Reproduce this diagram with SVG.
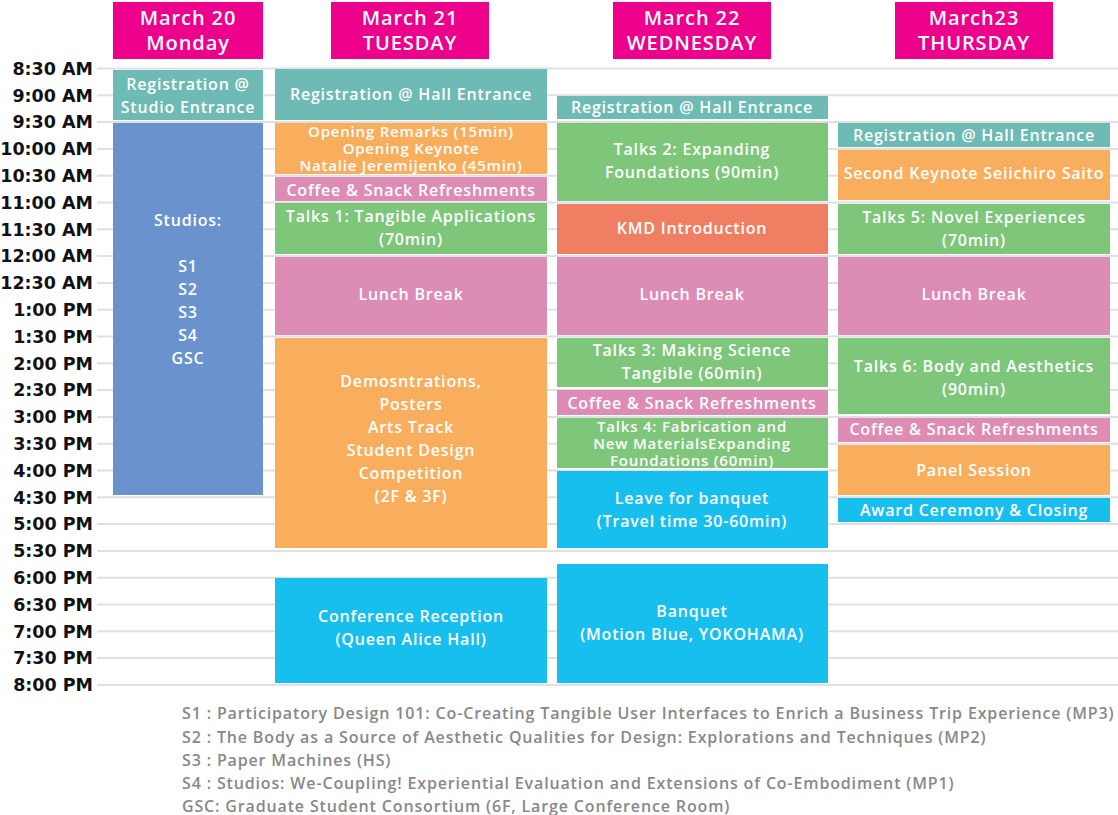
<svg xmlns="http://www.w3.org/2000/svg" width="1118" height="815" viewBox="0 0 1118 815">
<style>
.g{stroke:#e0e0e0;stroke-width:2}
.h{fill:#EC008C}
.ht{font-family:"Open Sans",sans-serif;font-weight:600;font-size:20px;letter-spacing:0.9px;fill:#fff;text-anchor:middle}
.tl{font-family:"DejaVu Sans",sans-serif;font-weight:700;font-size:17.5px;fill:#111;text-anchor:end}
.t{font-family:"Open Sans",sans-serif;font-weight:600;font-size:16px;letter-spacing:0.8px;fill:#fff;text-anchor:middle}
.t3{font-family:"Open Sans",sans-serif;font-weight:600;font-size:15px;letter-spacing:0.8px;fill:#fff;text-anchor:middle}
.n{font-family:"Open Sans",sans-serif;font-weight:600;font-size:16px;letter-spacing:0.85px;fill:#888}
.teal{fill:#6DBBB4}.blue{fill:#6A93CD}.or{fill:#F9AE5E}.pk{fill:#DD8DB5}.gr{fill:#7DC67A}.rd{fill:#F07E62}.cy{fill:#17BFEF}
</style>
<rect width="1118" height="815" fill="#fff"/>
<g id="grid">
<line class="g" x1="97" x2="1118" y1="68.5" y2="68.5"/><line class="g" x1="97" x2="1118" y1="95.3" y2="95.3"/><line class="g" x1="97" x2="1118" y1="122.1" y2="122.1"/><line class="g" x1="97" x2="1118" y1="148.9" y2="148.9"/><line class="g" x1="97" x2="1118" y1="175.7" y2="175.7"/><line class="g" x1="97" x2="1118" y1="202.5" y2="202.5"/><line class="g" x1="97" x2="1118" y1="229.3" y2="229.3"/><line class="g" x1="97" x2="1118" y1="256.1" y2="256.1"/><line class="g" x1="97" x2="1118" y1="282.9" y2="282.9"/><line class="g" x1="97" x2="1118" y1="309.7" y2="309.7"/><line class="g" x1="97" x2="1118" y1="336.5" y2="336.5"/><line class="g" x1="97" x2="1118" y1="363.3" y2="363.3"/><line class="g" x1="97" x2="1118" y1="390.1" y2="390.1"/><line class="g" x1="97" x2="1118" y1="416.9" y2="416.9"/><line class="g" x1="97" x2="1118" y1="443.7" y2="443.7"/><line class="g" x1="97" x2="1118" y1="470.5" y2="470.5"/><line class="g" x1="97" x2="1118" y1="497.3" y2="497.3"/><line class="g" x1="97" x2="1118" y1="524.1" y2="524.1"/><line class="g" x1="97" x2="1118" y1="550.9" y2="550.9"/><line class="g" x1="97" x2="1118" y1="577.7" y2="577.7"/><line class="g" x1="97" x2="1118" y1="604.5" y2="604.5"/><line class="g" x1="97" x2="1118" y1="631.3" y2="631.3"/><line class="g" x1="97" x2="1118" y1="658.1" y2="658.1"/><line class="g" x1="97" x2="1118" y1="684.9" y2="684.9"/>
</g>
<g id="times">
<text class="tl" x="93" y="75">8:30 AM</text><text class="tl" x="93" y="102">9:00 AM</text><text class="tl" x="93" y="128">9:30 AM</text><text class="tl" x="93" y="155">10:00 AM</text><text class="tl" x="93" y="182">10:30 AM</text><text class="tl" x="93" y="209">11:00 AM</text><text class="tl" x="93" y="236">11:30 AM</text><text class="tl" x="93" y="262">12:00 AM</text><text class="tl" x="93" y="289">12:30 AM</text><text class="tl" x="93" y="316">1:00 PM</text><text class="tl" x="93" y="343">1:30 PM</text><text class="tl" x="93" y="370">2:00 PM</text><text class="tl" x="93" y="396">2:30 PM</text><text class="tl" x="93" y="423">3:00 PM</text><text class="tl" x="93" y="450">3:30 PM</text><text class="tl" x="93" y="477">4:00 PM</text><text class="tl" x="93" y="504">4:30 PM</text><text class="tl" x="93" y="530">5:00 PM</text><text class="tl" x="93" y="557">5:30 PM</text><text class="tl" x="93" y="584">6:00 PM</text><text class="tl" x="93" y="611">6:30 PM</text><text class="tl" x="93" y="638">7:00 PM</text><text class="tl" x="93" y="664">7:30 PM</text><text class="tl" x="93" y="691">8:00 PM</text>
</g>
<g id="hdr-mon"><rect class="h" x="113" y="2" width="150" height="57"/><text class="ht" x="188" y="25">March 20</text><text class="ht" x="188" y="50">Monday</text></g>
<g id="hdr-tue"><rect class="h" x="331" y="2" width="158" height="57"/><text class="ht" x="410" y="25">March 21</text><text class="ht" x="410" y="50">TUESDAY</text></g>
<g id="hdr-wed"><rect class="h" x="613" y="2" width="158" height="57"/><text class="ht" x="692" y="25">March 22</text><text class="ht" x="692" y="50">WEDNESDAY</text></g>
<g id="hdr-thu"><rect class="h" x="895" y="2" width="158" height="57"/><text class="ht" x="974" y="25">March23</text><text class="ht" x="974" y="50">THURSDAY</text></g>

<g id="mon-reg"><rect class="teal" x="113" y="70" width="150" height="50"/><text class="t" x="188" y="90">Registration @</text><text class="t" x="188" y="113">Studio Entrance</text></g>
<g id="mon-studios"><rect class="blue" x="113" y="123" width="150" height="372"/><text class="t" x="188" y="226">Studios:</text><text class="t" x="188" y="272">S1</text><text class="t" x="188" y="295">S2</text><text class="t" x="188" y="318">S3</text><text class="t" x="188" y="341">S4</text><text class="t" x="188" y="364">GSC</text></g>

<g id="tue-reg"><rect class="teal" x="275" y="69" width="272" height="51"/><text class="t" x="411" y="100">Registration @ Hall Entrance</text></g>
<g id="tue-open"><rect class="or" x="275" y="123" width="272" height="51"/><text class="t3" x="411" y="137">Opening Remarks (15min)</text><text class="t3" x="411" y="154">Opening Keynote</text><text class="t3" x="411" y="171">Natalie Jeremijenko (45min)</text></g>
<g id="tue-coffee"><rect class="pk" x="275" y="177" width="272" height="24"/><text class="t" x="411" y="196">Coffee &amp; Snack Refreshments</text></g>
<g id="tue-talks1"><rect class="gr" x="275" y="203" width="272" height="51"/><text class="t" x="411" y="222">Talks 1: Tangible Applications</text><text class="t" x="411" y="245">(70min)</text></g>
<g id="tue-lunch"><rect class="pk" x="275" y="257" width="272" height="78"/><text class="t" x="411" y="300">Lunch Break</text></g>
<g id="tue-demos"><rect class="or" x="275" y="338" width="272" height="210"/><text class="t" x="411" y="387">Demosntrations,</text><text class="t" x="411" y="410">Posters</text><text class="t" x="411" y="433">Arts Track</text><text class="t" x="411" y="456">Student Design</text><text class="t" x="411" y="479">Competition</text><text class="t" x="411" y="502">(2F &amp; 3F)</text></g>
<g id="tue-reception"><rect class="cy" x="275" y="578" width="272" height="105"/><text class="t" x="411" y="622">Conference Reception</text><text class="t" x="411" y="645">(Queen Alice Hall)</text></g>

<g id="wed-reg"><rect class="teal" x="557" y="96" width="271" height="23"/><text class="t" x="692" y="113">Registration @ Hall Entrance</text></g>
<g id="wed-talks2"><rect class="gr" x="557" y="123" width="271" height="78"/><text class="t" x="692" y="155">Talks 2: Expanding</text><text class="t" x="692" y="178">Foundations (90min)</text></g>
<g id="wed-kmd"><rect class="rd" x="557" y="204" width="271" height="50"/><text class="t" x="692" y="234">KMD Introduction</text></g>
<g id="wed-lunch"><rect class="pk" x="557" y="257" width="271" height="78"/><text class="t" x="692" y="300">Lunch Break</text></g>
<g id="wed-talks3"><rect class="gr" x="557" y="338" width="271" height="49"/><text class="t" x="692" y="356">Talks 3: Making Science</text><text class="t" x="692" y="379">Tangible (60min)</text></g>
<g id="wed-coffee"><rect class="pk" x="557" y="390" width="271" height="25"/><text class="t" x="692" y="409">Coffee &amp; Snack Refreshments</text></g>
<g id="wed-talks4"><rect class="gr" x="557" y="418" width="271" height="50"/><text class="t3" x="692" y="432">Talks 4: Fabrication and</text><text class="t3" x="692" y="449">New MaterialsExpanding</text><text class="t3" x="692" y="466">Foundations (60min)</text></g>
<g id="wed-leave"><rect class="cy" x="557" y="471" width="271" height="77"/><text class="t" x="692" y="504">Leave for banquet</text><text class="t" x="692" y="527">(Travel time 30-60min)</text></g>
<g id="wed-banquet"><rect class="cy" x="557" y="564" width="271" height="119"/><text class="t" x="692" y="617">Banquet</text><text class="t" x="692" y="640">(Motion Blue, YOKOHAMA)</text></g>

<g id="thu-reg"><rect class="teal" x="838" y="123" width="272" height="24"/><text class="t" x="974" y="141">Registration @ Hall Entrance</text></g>
<g id="thu-keynote"><rect class="or" x="838" y="150" width="272" height="50"/><text class="t" x="974" y="179">Second Keynote Seiichiro Saito</text></g>
<g id="thu-talks5"><rect class="gr" x="838" y="204" width="272" height="50"/><text class="t" x="974" y="223">Talks 5: Novel Experiences</text><text class="t" x="974" y="246">(70min)</text></g>
<g id="thu-lunch"><rect class="pk" x="838" y="257" width="272" height="78"/><text class="t" x="974" y="300">Lunch Break</text></g>
<g id="thu-talks6"><rect class="gr" x="838" y="338" width="272" height="76"/><text class="t" x="974" y="372">Talks 6: Body and Aesthetics</text><text class="t" x="974" y="395">(90min)</text></g>
<g id="thu-coffee"><rect class="pk" x="838" y="418" width="272" height="24"/><text class="t" x="974" y="435">Coffee &amp; Snack Refreshments</text></g>
<g id="thu-panel"><rect class="or" x="838" y="445" width="272" height="50"/><text class="t" x="974" y="476">Panel Session</text></g>
<g id="thu-award"><rect class="cy" x="838" y="498" width="272" height="24"/><text class="t" x="974" y="516">Award Ceremony &amp; Closing</text></g>

<g id="notes">
<text class="n" x="182" y="719">S1 : Participatory Design 101: Co-Creating Tangible User Interfaces to Enrich a Business Trip Experience (MP3)</text>
<text class="n" x="182" y="743">S2 : The Body as a Source of Aesthetic Qualities for Design: Explorations and Techniques (MP2)</text>
<text class="n" x="182" y="766">S3 : Paper Machines (HS)</text>
<text class="n" x="182" y="789">S4 : Studios: We-Coupling! Experiential Evaluation and Extensions of Co-Embodiment (MP1)</text>
<text class="n" x="182" y="812">GSC: Graduate Student Consortium (6F, Large Conference Room)</text>
</g>
</svg>
